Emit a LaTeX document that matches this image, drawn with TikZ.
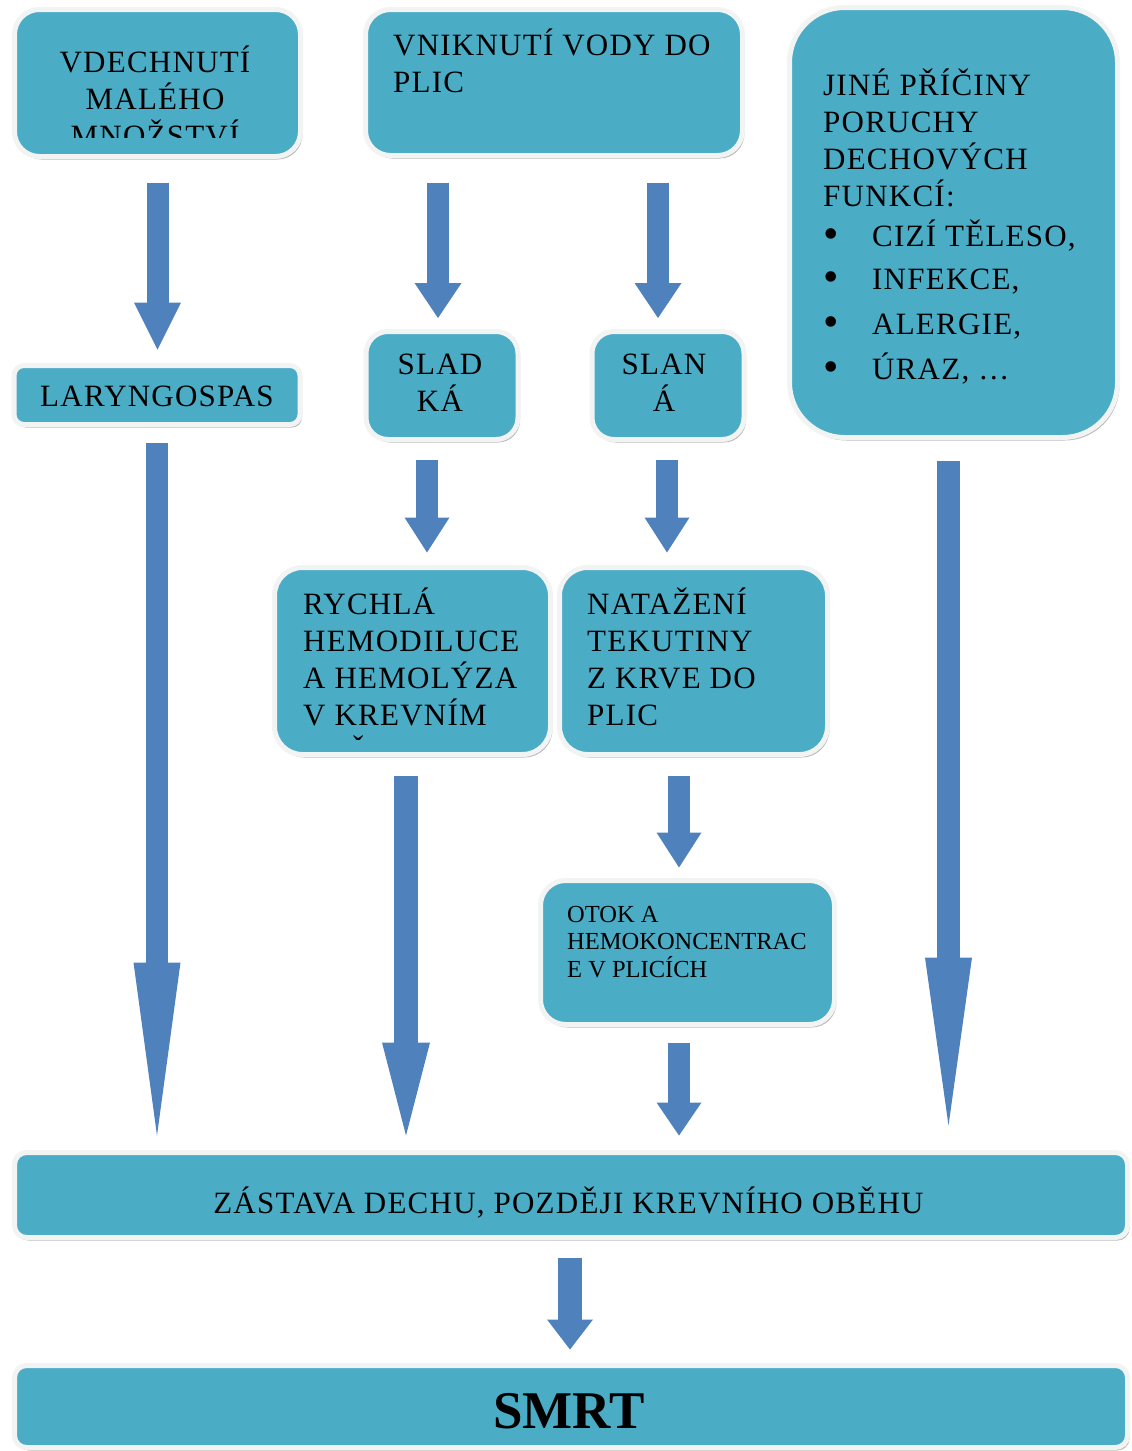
\documentclass[tikz,border=0pt]{standalone}
\usepackage{fontspec}
\setmainfont{Liberation Serif}
\usetikzlibrary{arrows.meta,shadows}
\definecolor{boxblue}{RGB}{75,172,198}
\definecolor{arrowblue}{RGB}{79,129,189}
\definecolor{boxedge}{RGB}{242,243,243}
\newcommand\st{\rule{0pt}{32pt}}
\newcommand\sts{\rule{0pt}{26pt}}
\newcommand\bul{\makebox[49pt][l]{\raisebox{-2pt}{\fontsize{44}{44}\selectfont •}}}
\tikzset{
  box/.style={rectangle, draw=boxedge, line width=5pt, fill=boxblue, inner sep=0pt,
    drop shadow={shadow xshift=2pt, shadow yshift=-3pt, fill=black!50, opacity=0.55}},
  txt/.style={inner sep=0pt, font=\fontsize{31}{37}\selectfont\addfontfeature{LetterSpace=4}, align=left, text=black},
  smalltxt/.style={inner sep=0pt, font=\fontsize{24.5}{27.5}\selectfont, align=left, text=black},
  barrow/.style 2 args={draw=arrowblue, line width=22pt, line cap=butt,
    -{Triangle[length=#1, width=#2, line width=0pt]}}
}
\begin{document}
\begin{tikzpicture}[x=1pt,y=-1pt]
\useasboundingbox (0,0) rectangle (1132,1451);
% boxes
\node[box, rounded corners=25pt, minimum width=286pt, minimum height=147pt] (b1) at (157.5,83) {};
\node[box, rounded corners=25pt, minimum width=377pt, minimum height=146pt] (b2) at (554,82.5) {};
\node[box, rounded corners=55pt, minimum width=328pt, minimum height=430pt] (jine) at (953.5,222.5) {};
\node[box, rounded corners=10pt, minimum width=286pt, minimum height=59pt] (lar) at (157,395) {};
\node[box, rounded corners=22pt, minimum width=152pt, minimum height=108pt] (sladka) at (442,385.5) {};
\node[box, rounded corners=22pt, minimum width=152pt, minimum height=108pt] (slana) at (668,385.5) {};
\node[box, rounded corners=28pt, minimum width=276pt, minimum height=187pt] (rych) at (412.5,661) {};
\node[box, rounded corners=28pt, minimum width=268pt, minimum height=187pt] (nat) at (693.5,661) {};
\node[box, rounded corners=25pt, minimum width=294pt, minimum height=144pt] (otok) at (687.5,952.5) {};
\node[box, rounded corners=12pt, minimum width=1113pt, minimum height=85pt] (zas) at (571,1195) {};
\node[box, rounded corners=12pt, minimum width=1113pt, minimum height=82pt] (smrt) at (571,1406.5) {};
% texts
\begin{scope}
\clip (15,12) rectangle (300,137);
\node[txt, align=center, anchor=north] (t1) at (155,40) {\st VDECHNUTÍ\\MALÉHO\\MNOŽSTVÍ};
\end{scope}
\node[txt, anchor=north west] (t2) at (393,23) {\st VNIKNUTÍ VODY DO\\PLIC};
\node[txt, anchor=north west] (t3) at (823,63) {\st JINÉ PŘÍČINY\\PORUCHY\\DECHOVÝCH\\FUNKCÍ:\\[3pt]\bul CIZÍ TĚLESO,\\[6pt]\bul INFEKCE,\\[8pt]\bul ALERGIE,\\[8pt]\bul ÚRAZ, …};
\node[txt, anchor=base] (t4) at (157,406) {LARYNGOSPAS};
\node[txt, align=center, anchor=north] (t5) at (440,342) {\st SLAD\\KÁ};
\node[txt, align=center, anchor=north] (t6) at (664,342) {\st SLAN\\Á};
\begin{scope}
\clip (275,570) rectangle (550,740);
\node[txt, anchor=north west] (t7) at (303,582) {\st RYCHLÁ\\HEMODILUCE\\A HEMOLÝZA\\V KREVNÍM\\OBĚHU};
\end{scope}
\node[txt, anchor=north west] (t8) at (587,582) {\st NATAŽENÍ\\TEKUTINY\\Z KRVE DO\\PLIC};
\node[smalltxt, anchor=north west] (t9) at (567,896) {\sts OTOK A\\HEMOKONCENTRAC\\E V PLICÍCH};
\node[txt, anchor=base] (t10) at (568.5,1213) {ZÁSTAVA DECHU, POZDĚJI KREVNÍHO OBĚHU};
\node[inner sep=0pt, anchor=base, font=\fontsize{53}{60}\selectfont\bfseries] (t11) at (569,1428) {SMRT};
% arrows
\draw[barrow={47pt}{47pt}, shorten <=23.5pt, shorten >=13.5pt] (b1.south) -- (b1.south |- lar.north);
\draw[barrow={35pt}{47pt}, shorten <=24.5pt, shorten >=11pt] ([xshift=-4pt]sladka.north |- b2.south) -- ([xshift=-4pt]sladka.north);
\draw[barrow={35pt}{47pt}, shorten <=24.5pt, shorten >=11pt] ([xshift=-10pt]slana.north |- b2.south) -- ([xshift=-10pt]slana.north);
\draw[barrow={173pt}{47pt}, shorten <=15.5pt, shorten >=14.5pt] (lar.south) -- (lar.south |- zas.north);
\draw[barrow={35pt}{45pt}, shorten <=18pt, shorten >=12.5pt] ([xshift=-15pt]sladka.south) -- ([xshift=-15pt]sladka.south |- rych.north);
\draw[barrow={35pt}{45pt}, shorten <=18pt, shorten >=12.5pt] ([xshift=-1pt]slana.south) -- ([xshift=-1pt]slana.south |- nat.north);
\draw[barrow={93pt}{48pt}, line width=24pt, shorten <=18.5pt, shorten >=14.5pt] ([xshift=-6.5pt]rych.south) -- ([xshift=-6.5pt]rych.south |- zas.north);
\draw[barrow={35pt}{45pt}, shorten <=18.5pt, shorten >=10.5pt] ([xshift=-14.5pt]nat.south) -- ([xshift=-14.5pt]nat.south |- otok.north);
\draw[barrow={33pt}{45pt}, shorten <=15.5pt, shorten >=14.5pt] ([xshift=-8.5pt]otok.south) -- ([xshift=-8.5pt]otok.south |- zas.north);
\draw[barrow={168pt}{47pt}, line width=23pt, shorten <=20.5pt, shorten >=24.5pt] ([xshift=-5pt]jine.south) -- ([xshift=-5pt]jine.south |- zas.north);
\draw[barrow={30pt}{46pt}, line width=24pt, shorten <=17.5pt, shorten >=13.5pt] ([xshift=-1pt]zas.south) -- ([xshift=-1pt]zas.south |- smrt.north);
\end{tikzpicture}
\end{document}
